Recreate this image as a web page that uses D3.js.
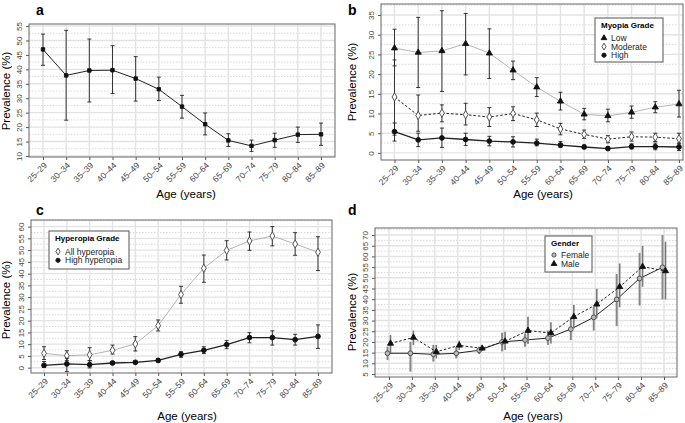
<!DOCTYPE html>
<html>
<head>
<meta charset="utf-8">
<script src="https://cdn.jsdelivr.net/npm/d3@7"></script>
<style>
  body { margin: 0; background: #fff; }
  svg { display: block; font-family: "Liberation Sans", Arial, sans-serif; }
</style>
</head>
<body>
<script>
const ageGroups = ["25–29", "30–34", "35–39", "40–44", "45–49", "50–54", "55–59",
                   "60–64", "65–69", "70–74", "75–79", "80–84", "85–89"];

// a: overall prevalence
const aPrev = [46.9, 37.9, 39.6, 39.7, 36.8, 33.1, 27.1, 21.0, 15.4, 13.5, 15.5, 17.4, 17.5];
const aLo   = [41.4, 22.4, 28.7, 31.6, 29.0, 29.2, 23.1, 17.3, 13.3, 11.6, 13.0, 14.7, 13.7];
const aHi   = [52.2, 53.5, 50.5, 48.2, 44.4, 37.3, 31.0, 24.9, 17.7, 15.5, 17.9, 20.0, 21.4];

// b: myopia grade
const bLow    = [26.6, 25.5, 25.9, 27.7, 25.3, 21.0, 16.7, 13.1, 9.8, 9.4, 10.3, 11.6, 12.4];
const bLowLo  = [22.1, 16.6, 15.6, 19.8, 18.9, 18.6, 14.3, 10.9, 8.4, 7.9, 8.8, 10.2, 9.1];
const bLowHi  = [31.4, 34.4, 36.1, 35.4, 31.5, 23.3, 19.1, 15.4, 11.3, 11.1, 11.9, 13.0, 15.9];
const bMod    = [14.2, 9.5, 10.1, 9.7, 9.1, 10.0, 8.4, 6.1, 4.7, 3.5, 4.1, 4.0, 3.6];
const bModLo  = [4.5, 5.5, 7.9, 7.1, 6.7, 8.2, 6.7, 4.6, 3.7, 2.6, 3.0, 2.9, 2.3];
const bModHi  = [23.6, 14.7, 12.2, 12.6, 11.5, 11.7, 10.1, 7.5, 5.8, 4.4, 5.3, 5.0, 5.0];
const bHigh   = [5.4, 3.3, 3.8, 3.4, 3.0, 2.8, 2.5, 2.0, 1.5, 1.1, 1.6, 1.6, 1.5];
const bHighLo = [3.0, 1.6, 1.4, 1.9, 1.8, 1.5, 1.8, 1.4, 1.1, 0.7, 1.0, 0.8, 0.6];
const bHighHi = [7.6, 5.0, 6.3, 5.0, 4.2, 4.1, 3.5, 2.9, 2.0, 1.6, 2.3, 2.5, 2.5];

// c: hyperopia grade
const cAll    = [6.1, 5.1, 5.5, 7.4, 10.1, 17.9, 31.1, 42.3, 49.9, 53.9, 56.0, 52.6, 49.1];
const cAllLo  = [3.5, 3.0, 3.0, 5.8, 7.1, 15.6, 27.4, 36.3, 45.8, 49.9, 51.8, 47.8, 41.3];
const cAllHi  = [8.9, 7.2, 8.5, 9.6, 13.2, 20.3, 34.6, 47.9, 54.0, 57.7, 60.0, 57.4, 55.7];
const cHigh   = [1.0, 1.6, 1.3, 2.0, 2.3, 3.1, 5.7, 7.4, 9.8, 12.8, 12.8, 11.9, 13.3];
const cHighLo = [0.1, -1.6, -0.1, 1.4, 1.6, 2.4, 4.4, 6.0, 8.1, 10.6, 9.6, 9.6, 8.2];
const cHighHi = [2.6, 4.0, 3.0, 2.6, 2.8, 3.7, 6.8, 8.9, 11.5, 14.9, 15.7, 14.2, 18.2];

// d: gender
const dFem    = [14.7, 14.7, 14.2, 14.7, 16.1, 20.0, 20.9, 21.8, 26.0, 31.5, 39.9, 49.7, 54.9];
const dFemLo  = [11.5, 6.1, 10.8, 12.3, 14.3, 15.6, 17.8, 18.6, 20.9, 25.3, 27.4, 37.0, 39.9];
const dFemHi  = [17.8, 20.0, 18.6, 17.5, 17.8, 24.3, 24.0, 25.3, 31.5, 36.5, 51.8, 61.7, 70.0];
const dMale   = [19.3, 22.1, 15.4, 18.4, 17.0, 20.3, 25.3, 24.2, 31.8, 37.6, 45.8, 55.2, 53.2];
const dMaleLo = [14.7, 18.6, 12.3, 16.2, 15.8, 16.2, 19.0, 19.3, 26.4, 31.0, 36.2, 45.8, 39.9];
const dMaleHi = [23.2, 25.3, 18.6, 20.6, 18.1, 24.8, 31.8, 29.2, 37.3, 44.9, 56.7, 64.9, 66.9];

const aTicks = d3.range(10, 56, 5);
const bTicks = d3.range(0, 36, 5);
const cTicks = d3.range(0, 61, 5);
const dTicks = d3.range(5, 71, 5);

const svg = d3.select("body").append("svg")
    .attr("width", 685)
    .attr("height", 423);

function drawPanel(cfg) {
    const g = svg.append("g");
    const b = cfg.box;

    const x = d3.scalePoint().domain(ageGroups).range([cfg.xFirst, cfg.xLast]);
    const y = d3.scaleLinear().domain(cfg.yDomain).range([b.y1, b.y0]);

    // background grid
    const step = cfg.ticks[1] - cfg.ticks[0];
    const minor = cfg.ticks.map(t => t + step / 2).filter(t => y(t) > b.y0 && y(t) < b.y1);
    g.append("g").selectAll("line").data(minor).join("line")
        .attr("x1", b.x0).attr("x2", b.x1)
        .attr("y1", d => y(d)).attr("y2", d => y(d))
        .attr("stroke", "#cfcfcf").attr("stroke-width", 0.8)
        .attr("stroke-dasharray", "1.5,1.5");
    g.append("g").selectAll("line").data(cfg.ticks).join("line")
        .attr("x1", b.x0).attr("x2", b.x1)
        .attr("y1", d => y(d)).attr("y2", d => y(d))
        .attr("stroke", "#e3e3e3").attr("stroke-width", 1.4);
    g.append("g").selectAll("line").data(ageGroups).join("line")
        .attr("x1", d => x(d)).attr("x2", d => x(d))
        .attr("y1", b.y0).attr("y2", b.y1)
        .attr("stroke", "#e3e3e3").attr("stroke-width", 1.4);

    // axes
    const yAxis = g.append("g")
        .attr("transform", "translate(" + b.x0 + ",0)")
        .call(d3.axisLeft(y).tickValues(cfg.ticks).tickSize(3).tickPadding(2));
    yAxis.select(".domain").remove();
    yAxis.selectAll("line").attr("stroke", "#555");
    yAxis.selectAll("text")
        .attr("x", 0).attr("dy", 0)
        .attr("transform", "translate(-7,0) rotate(-90)")
        .style("text-anchor", "middle")
        .style("font-size", "8px")
        .attr("fill", "#444");

    const xAxis = g.append("g")
        .attr("transform", "translate(0," + b.y1 + ")")
        .call(d3.axisBottom(x).tickSize(3));
    xAxis.select(".domain").remove();
    xAxis.selectAll("line").attr("stroke", "#555");
    xAxis.selectAll("text")
        .attr("x", 0).attr("y", 0).attr("dy", 0)
        .attr("transform", "translate(4,9) rotate(-45)")
        .style("text-anchor", "end")
        .style("font-size", "8.5px")
        .attr("fill", "#444");

    // series
    cfg.series.forEach(s => {
        const dx = s.dx || 0;
        const pts = ageGroups.map((a, i) => ({ a, v: s.values[i], lo: s.lo[i], hi: s.hi[i] }));
        g.append("path")
            .datum(pts)
            .attr("fill", "none")
            .attr("stroke", s.lineColor)
            .attr("stroke-width", s.lineWidth || 1)
            .attr("stroke-dasharray", s.dash || null)
            .attr("d", d3.line().x(d => x(d.a) + dx).y(d => y(d.v)));

        const eb = g.append("g").selectAll("g").data(pts).join("g");
        eb.append("line")
            .attr("x1", d => x(d.a) + dx).attr("x2", d => x(d.a) + dx)
            .attr("y1", d => y(d.lo)).attr("y2", d => y(d.hi))
            .attr("stroke", s.barColor || "#222")
            .attr("stroke-width", s.barWidth || 0.9);
        if (s.caps !== false) {
            ["lo", "hi"].forEach(k => {
                eb.append("line")
                    .attr("x1", d => x(d.a) + dx - 2).attr("x2", d => x(d.a) + dx + 2)
                    .attr("y1", d => y(d[k])).attr("y2", d => y(d[k]))
                    .attr("stroke", s.barColor || "#222")
                    .attr("stroke-width", 0.9);
            });
        }

        g.append("g").selectAll("path").data(pts).join("path")
            .attr("transform", d => "translate(" + (x(d.a) + dx) + "," + y(d.v) + ")")
            .attr("d", d3.symbol().type(s.symbol).size(s.size || 18))
            .attr("fill", s.fill)
            .attr("stroke", s.stroke)
            .attr("stroke-width", 0.9);
    });

    // frame
    g.append("rect")
        .attr("x", b.x0).attr("y", b.y0)
        .attr("width", b.x1 - b.x0).attr("height", b.y1 - b.y0)
        .attr("fill", "none").attr("stroke", "#666").attr("stroke-width", 1);

    // titles
    g.append("text")
        .attr("x", cfg.letter[0]).attr("y", cfg.letter[1])
        .style("font-size", "14px").style("font-weight", "bold")
        .text(cfg.label);
    g.append("text")
        .attr("transform", "translate(" + cfg.yTitle[0] + "," + cfg.yTitle[1] + ") rotate(-90)")
        .attr("text-anchor", "middle")
        .style("font-size", "11.5px")
        .text("Prevalence (%)");
    g.append("text")
        .attr("x", cfg.xTitle[0]).attr("y", cfg.xTitle[1])
        .attr("text-anchor", "middle")
        .style("font-size", "11.5px")
        .text("Age (years)");

    // legend
    if (cfg.legend) {
        const L = cfg.legend;
        const lg = g.append("g").attr("transform", "translate(" + L.x + "," + L.y + ")");
        lg.append("rect")
            .attr("width", L.w).attr("height", L.h)
            .attr("fill", "#fff").attr("stroke", "#555").attr("stroke-width", 1);
        lg.append("text")
            .attr("x", 6).attr("y", 10)
            .style("font-size", "8px").style("font-weight", "bold")
            .text(L.title);
        L.items.forEach((it, i) => {
            const s = cfg.series[it.series];
            const yy = L.firstY + i * L.gap;
            lg.append("path")
                .attr("transform", "translate(9," + yy + ")")
                .attr("d", d3.symbol().type(s.symbol).size(14))
                .attr("fill", s.fill).attr("stroke", s.stroke).attr("stroke-width", 0.9);
            lg.append("text")
                .attr("x", 16).attr("y", yy + 3)
                .style("font-size", "8.5px")
                .attr("fill", "#222")
                .text(it.name);
        });
    }
}

drawPanel({
    label: "a", letter: [36, 15],
    box: { x0: 29, x1: 335, y0: 24, y1: 157 },
    xFirst: 43, xLast: 321,
    yDomain: [9.65, 55.7], ticks: aTicks,
    yTitle: [10, 91], xTitle: [186, 198],
    series: [
        { values: aPrev, lo: aLo, hi: aHi, lineColor: "#222", symbol: d3.symbolSquare,
          size: 12, fill: "#111", stroke: "#111" }
    ]
});

drawPanel({
    label: "b", letter: [348, 15],
    box: { x0: 381, x1: 683, y0: 4, y1: 160 },
    xFirst: 394.5, xLast: 679,
    yDomain: [-1.8, 37.8], ticks: bTicks,
    yTitle: [356, 82], xTitle: [543, 198],
    series: [
        { values: bLow, lo: bLowLo, hi: bLowHi, lineColor: "#b5b5b5", symbol: d3.symbolTriangle,
          size: 16, fill: "#111", stroke: "#111" },
        { values: bMod, lo: bModLo, hi: bModHi, lineColor: "#222", dash: "2.5,2", symbol: d3.symbolDiamond,
          size: 20, fill: "#fff", stroke: "#444" },
        { values: bHigh, lo: bHighLo, hi: bHighHi, lineColor: "#222", lineWidth: 1.3, symbol: d3.symbolCircle,
          size: 18, fill: "#111", stroke: "#111" }
    ],
    legend: { x: 595, y: 18, w: 68, h: 44, title: "Myopia Grade", firstY: 20, gap: 8.6,
              items: [{ name: "Low", series: 0 }, { name: "Moderate", series: 1 }, { name: "High", series: 2 }] }
});

drawPanel({
    label: "c", letter: [36, 215],
    box: { x0: 31, x1: 332, y0: 220, y1: 373 },
    xFirst: 44, xLast: 318,
    yDomain: [-2.26, 62.8], ticks: cTicks,
    yTitle: [10, 300], xTitle: [187, 420],
    series: [
        { values: cAll, lo: cAllLo, hi: cAllHi, lineColor: "#b5b5b5", symbol: d3.symbolDiamond,
          size: 20, fill: "#fff", stroke: "#444" },
        { values: cHigh, lo: cHighLo, hi: cHighHi, lineColor: "#222", lineWidth: 1.3, symbol: d3.symbolCircle,
          size: 18, fill: "#111", stroke: "#111" }
    ],
    legend: { x: 49, y: 231, w: 80, h: 38, title: "Hyperopia Grade", firstY: 20.5, gap: 8.8,
              items: [{ name: "All hyperopia", series: 0 }, { name: "High hyperopia", series: 1 }] }
});

drawPanel({
    label: "d", letter: [348, 215],
    box: { x0: 375, x1: 677, y0: 228, y1: 377 },
    xFirst: 389, xLast: 664,
    yDomain: [3.6, 73.3], ticks: dTicks,
    yTitle: [356, 312], xTitle: [533, 420],
    series: [
        { values: dFem, lo: dFemLo, hi: dFemHi, lineColor: "#222", dx: -1.5, symbol: d3.symbolCircle,
          size: 18, fill: "#bbb", stroke: "#444", barColor: "#888", barWidth: 2, caps: false },
        { values: dMale, lo: dMaleLo, hi: dMaleHi, lineColor: "#222", dash: "2.5,2", dx: 1.5,
          symbol: d3.symbolTriangle, size: 16, fill: "#111", stroke: "#111", barColor: "#777", barWidth: 1.6, caps: false }
    ],
    legend: { x: 545, y: 236, w: 47, h: 36, title: "Gender", firstY: 19, gap: 8.8,
              items: [{ name: "Female", series: 0 }, { name: "Male", series: 1 }] }
});
</script>
</body>
</html>
